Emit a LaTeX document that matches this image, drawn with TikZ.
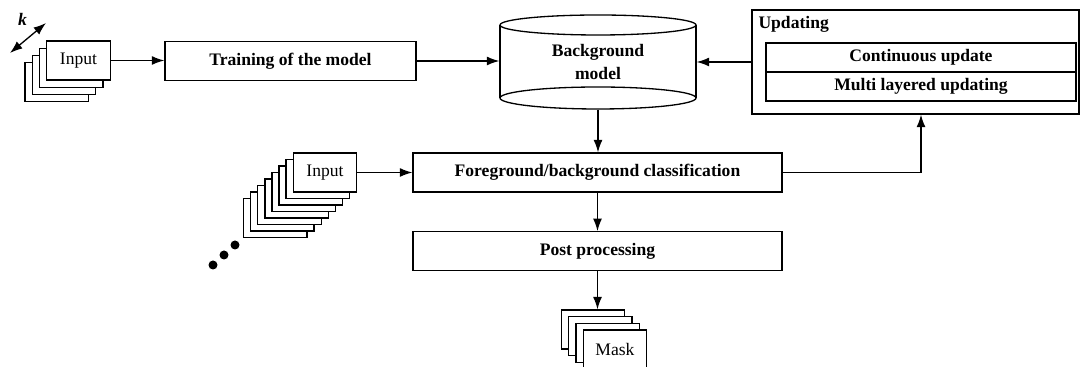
\documentclass[tikz,border=0pt]{standalone}
\usepackage{fontspec}
\setmainfont{Liberation Serif}
\usetikzlibrary{arrows.meta}

\begin{document}
\begin{tikzpicture}[>={Latex[length=2.5mm,width=1.8mm]}, line width=0.75pt,
    box/.style={draw, fill=white, font=\bfseries, minimum height=0.77cm, inner sep=0pt},
    sheet/.style={draw, fill=white, minimum width=1.27cm, minimum height=0.78cm, inner sep=0pt},
    blob/.style={circle, fill, inner sep=0pt, minimum size=0.18cm}]
        \useasboundingbox (0,0) rectangle (21.62,7.34);

        % ===== TRAINING =====
        \foreach \i in {3,2,1} {
            \node[sheet] (inA\i) at ({1.57-0.145*\i}, {6.13-0.145*\i}) {};
        }
        \node[sheet] (inA) at (1.57, 6.13) {Input};
        \coordinate (kA) at (0.2, 6.28);
        \coordinate (kB) at (0.92, 6.88);
        \draw[<->] (kA) -- (kB);
        \node[font=\bfseries\itshape] (klab) at (0.45, 6.95) {k};

        \node[box, minimum width=5.02cm] (train) at (5.81, 6.12) {Training of the model};

        % background model (cilindro)
        \def\xC{11.96}
        \draw (\xC-1.96, 6.84) -- (\xC-1.96, 5.38);
        \draw (\xC+1.96, 6.84) -- (\xC+1.96, 5.38);
        \draw (\xC, 6.84) ellipse (1.96 and 0.2);
        \draw (\xC, 5.38) ellipse (1.96 and 0.22);
        \node[minimum width=3.92cm, minimum height=1.88cm, inner sep=0pt, font=\bfseries, align=center] (bgm) at (\xC, 6.10) {Background\\[1pt]model};

        % ===== UPDATING =====
        \node[draw, minimum width=6.54cm, minimum height=2.08cm] (upd) at (18.31, 6.10) {};
        \node[font=\bfseries, anchor=north west, inner sep=2pt] (updlab) at ([xshift=0.06cm, yshift=-0.06cm]upd.north west) {Updating};
        \node[box, minimum width=6.2cm, minimum height=0.58cm] (cont) at (18.42, 6.19) {Continuous update};
        \node[box, minimum width=6.2cm, minimum height=0.58cm] (multi) at (18.42, 5.61) {Multi layered updating};

        % ===== CLASSIFICATION =====
        \foreach \i in {7,6,...,1} {
            \node[sheet] (inB\i) at ({6.50-0.142*\i}, {3.89-0.13*\i}) {};
        }
        \node[sheet] (inB) at (6.50, 3.89) {Input};
        \foreach \i/\x/\y in {1/4.26/2.04, 2/4.48/2.24, 3/4.70/2.44} {
            \node[blob] (dot\i) at (\x, \y) {};
        }

        \node[box, minimum width=7.38cm, minimum height=0.78cm] (fg) at (11.95, 3.89) {Foreground/background classification};
        \node[box, minimum width=7.38cm] (pp) at (11.95, 2.32) {Post processing};

        \foreach \i in {3,2,1} {
            \node[sheet] (mask\i) at ({12.30-0.147*\i}, {0.35+0.133*\i}) {};
        }
        \node[sheet] (mask) at (12.30, 0.35) {Mask};

        % frecce
        \draw[->] (inA.east) -- (inA.east -| train.west);
        \draw[->] (train.east) -- (train.east -| bgm.west);
        \draw[->] (upd.west) -- (upd.west -| bgm.east);
        \draw[->] (bgm.south) -- (bgm.south |- fg.north);
        \draw[->] (inB) -- (fg);
        \draw[->] (fg.east) -| ([xshift=0.11cm]upd.south);
        \draw[->] (fg) -- (pp);
        \draw[->] (pp.south) -- (pp.south |- mask3.north);
    \end{tikzpicture}
\end{document}
